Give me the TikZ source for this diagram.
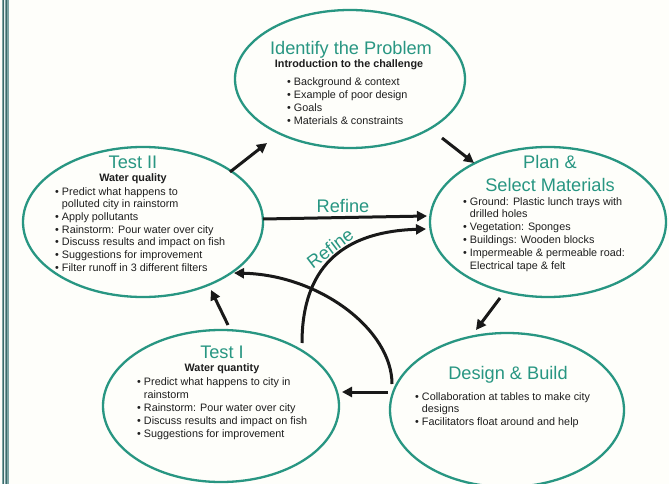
\documentclass[tikz,border=0pt]{standalone}
\usepackage{fontspec}
\setmainfont{Liberation Sans}
\usetikzlibrary{arrows.meta,shapes.geometric}
\definecolor{tealc}{RGB}{40,150,130}
\definecolor{bodyc}{RGB}{30,30,30}
\definecolor{bgc}{RGB}{254,254,250}
\definecolor{bordc}{RGB}{125,165,165}
\definecolor{borddark}{RGB}{60,105,105}
\tikzset{
 stage/.style={draw=tealc, line width=2.3pt, ellipse, inner sep=0pt},
 ttl/.style={text=tealc, font=\fontsize{18.2}{22}\selectfont, anchor=base, inner sep=0pt},
 subt/.style={text=bodyc, font=\fontsize{10.8}{13}\selectfont\bfseries, anchor=base, inner sep=0pt},
 lst/.style={text=bodyc, font=\fontsize{10.8}{12.9}\selectfont, anchor=base west, inner sep=0pt},
 flow/.style={line width=3pt, draw=black!90, -{Triangle[length=10pt,width=10pt]}},
 lbl/.style={text=tealc, font=\fontsize{18.2}{22}\selectfont, inner sep=0pt}
}
\newcommand{\bl}{\textbullet\ }
\newcommand{\ind}{\hphantom{\textbullet\ }}
\begin{document}
\begin{tikzpicture}[x=1pt,y=-1pt]
\useasboundingbox (0,0) rectangle (669,484);
\clip (0,0) rectangle (669,484);
\fill[bgc] (0,0) rectangle (669,484);
% left border
\fill[bordc] (1.5,0) rectangle (8.5,484);
\draw[borddark, line width=0.9pt] (3,0) -- (3,484);
\draw[white!80!bordc, line width=0.8pt] (4.8,0) -- (4.8,484);
\draw[borddark, line width=0.9pt] (6.6,0) -- (6.6,484);

% stages
\node[stage, minimum width=230pt, minimum height=138pt] (id) at (350,79) {};
\node[stage, minimum width=240pt, minimum height=150pt] (t2) at (143,222) {};
\node[stage, minimum width=236pt, minimum height=150pt] (plan) at (548,222) {};
\node[stage, minimum width=236pt, minimum height=152pt] (t1) at (221,406) {};
\node[stage, minimum width=234pt, minimum height=154pt] (db) at (507,410) {};

% connector ends
\coordinate (a1s) at (230,172); \coordinate (a1e) at (267,143);
\coordinate (a2s) at (442,138); \coordinate (a2e) at (474,163);
\coordinate (a3s) at (500,298); \coordinate (a3e) at (476,330);
\coordinate (a4s) at (388,392); \coordinate (a4e) at (342,392);
\coordinate (a5s) at (228,325); \coordinate (a5e) at (211,290);
\coordinate (r1s) at (263,219); \coordinate (r1e) at (427,216);
\coordinate (r2s) at (302,343); \coordinate (r2e) at (426,229);
\coordinate (bcs) at (392,384); \coordinate (bce) at (234,273);

\draw[flow] (a1s) -- (a1e);
\draw[flow] (a2s) -- (a2e);
\draw[flow] (a3s) -- (a3e);
\draw[flow] (a4s) -- (a4e);
\draw[flow] (a5s) -- (a5e);
\draw[flow] (r1s) -- (r1e);
\draw[flow] (bcs) .. controls (392,330) and (320,275) .. (bce);
\draw[flow] (r2s) .. controls (302,280) and (330,232) .. (r2e);

\node[lbl, anchor=base] (ref1) at (343,212.5) {Refine};
\node[lbl, rotate=37] (ref2) at (330,248) {Refine};

% Identify the Problem
\node[ttl] (idT) at (351,55) {Identify the Problem};
\node[subt] (idS) at (349,68) {Introduction to the challenge};
\node[lst] (idL) at (287,86) {\parbox[t]{250pt}{\bl Background \& context\\
\bl Example of poor design\\
\bl Goals\\
\bl Materials \& constraints}};

% Test II
\node[ttl] (t2T) at (133,168) {Test II};
\node[subt] (t2S) at (133,181) {Water quality};
\node[lst, font=\fontsize{10.8}{12.7}\selectfont] (t2L) at (55,195) {\parbox[t]{250pt}{\bl Predict what happens to\\
\ind polluted city in rainstorm\\
\bl Apply pollutants\\
\bl Rainstorm: Pour water over city\\
\bl Discuss results and impact on fish\\
\bl Suggestions for improvement\\
\bl Filter runoff in 3 different filters}};

% Plan & Select Materials
\node[ttl] (plT1) at (550,168) {Plan \&};
\node[ttl] (plT2) at (550,191.5) {Select Materials};
\node[lst] (plL) at (463,205) {\parbox[t]{250pt}{\bl Ground: Plastic lunch trays with\\
\ind drilled holes\\
\bl Vegetation: Sponges\\
\bl Buildings: Wooden blocks\\
\bl Impermeable \& permeable road:\\
\ind Electrical tape \& felt}};

% Test I
\node[ttl] (t1T) at (222,358) {Test I};
\node[subt] (t1S) at (222,371) {Water quantity};
\node[lst, font=\fontsize{10.8}{13}\selectfont] (t1L) at (137,385) {\parbox[t]{250pt}{\bl Predict what happens to city in\\
\ind rainstorm\\
\bl Rainstorm: Pour water over city\\
\bl Discuss results and impact on fish\\
\bl Suggestions for improvement}};

% Design & Build
\node[ttl] (dbT) at (508,379) {Design \& Build};
\node[lst, font=\fontsize{10.8}{12.7}\selectfont] (dbL) at (415,400) {\parbox[t]{250pt}{\bl Collaboration at tables to make city\\
\ind designs\\
\bl Facilitators float around and help}};
\end{tikzpicture}
\end{document}
